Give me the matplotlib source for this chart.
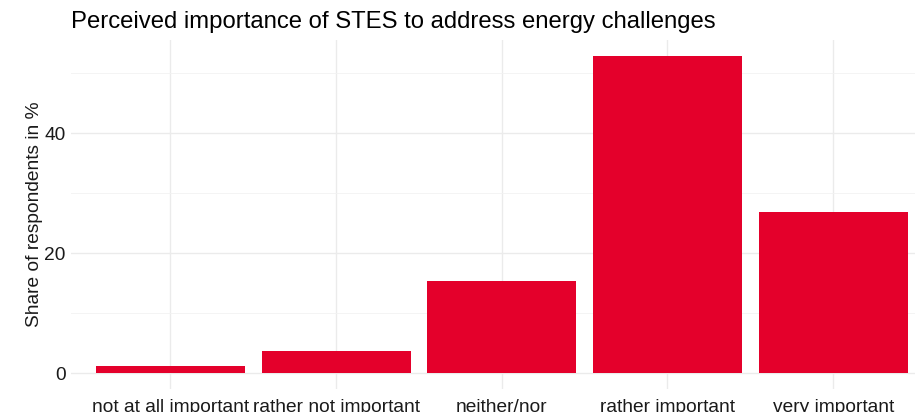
import matplotlib
matplotlib.use("Agg")
import matplotlib.pyplot as plt
from matplotlib.ticker import MultipleLocator

categories = ["not at all important", "rather not important", "neither/nor",
              "rather important", "very important"]
shares = [1.2, 3.7, 15.4, 52.8, 26.9]
y_ticks = [0, 20, 40]

plt.rcParams['font.family'] = ['Liberation Sans', 'DejaVu Sans']

W, H = 915, 412
fig = plt.figure(figsize=(W / 100, H / 100), dpi=100)
left_px, right_px = 71, 932.6
top_px, bottom_px = 40.4, 389
ax = fig.add_axes([left_px / W, (H - bottom_px) / H,
                   (right_px - left_px) / W, (bottom_px - top_px) / H])

x = list(range(1, len(categories) + 1))
ax.bar(x, shares, width=0.9, color='#E4002B', zorder=3)

ax.set_xlim(0.4, len(categories) + 0.6)
ymax = max(shares)
ax.set_ylim(-0.05 * ymax, ymax * 1.05)
ax.set_xticks(x)
ax.set_xticklabels(categories, fontsize=13.8, color='#1a1a1a')
ax.set_yticks(y_ticks)
ax.set_yticklabels([str(v) for v in y_ticks], fontsize=13.8, color='#1a1a1a')
ax.yaxis.set_minor_locator(MultipleLocator(10))

ax.grid(True, which='major', color='#EBEBEB', linewidth=1.0, zorder=0)
ax.grid(True, which='minor', axis='y', color='#F2F2F2', linewidth=0.6, zorder=0)
ax.tick_params(axis='both', which='both', length=0)
ax.tick_params(axis='x', pad=7)
ax.tick_params(axis='y', pad=4)
for s in ax.spines.values():
    s.set_visible(False)

ax.set_ylabel("Share of respondents in %", fontsize=13.8, color='#1a1a1a', labelpad=1)
fig.text(left_px / W, 1 - 22 / H, "Perceived importance of STES to address energy challenges",
         fontsize=17.2, color='black', ha='left', va='center')

fig.savefig("out.png", dpi=100, facecolor='white')
